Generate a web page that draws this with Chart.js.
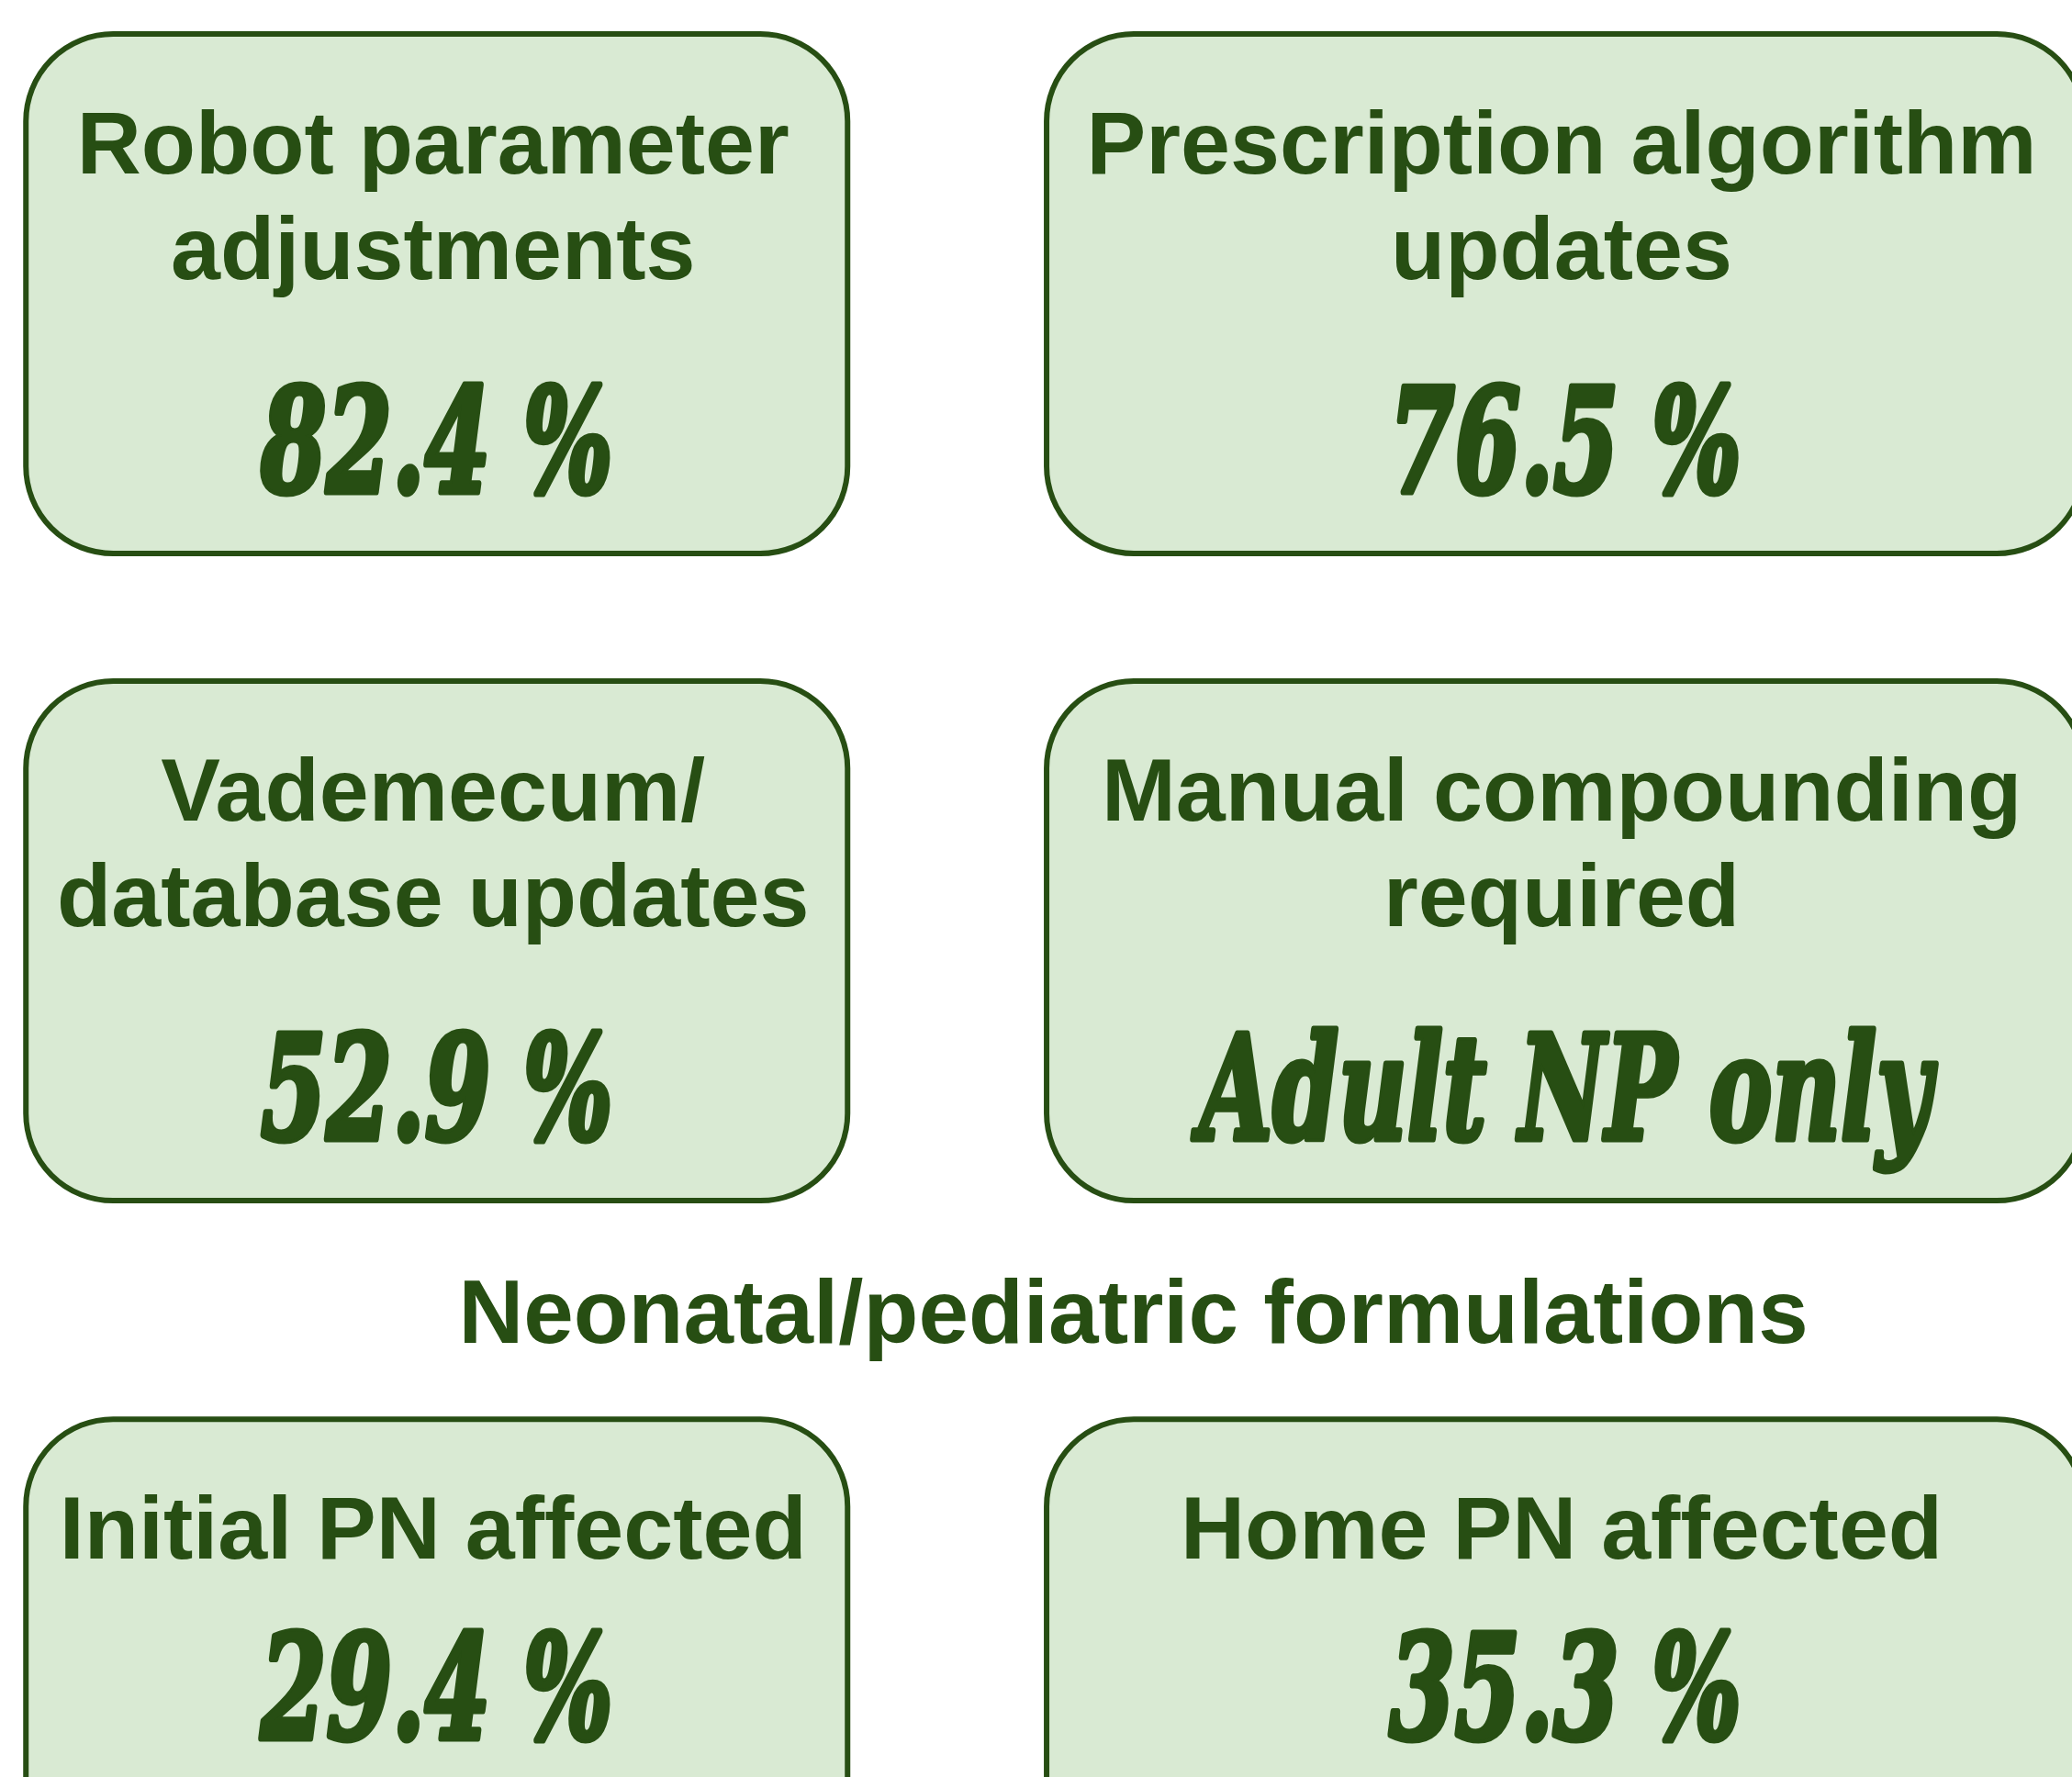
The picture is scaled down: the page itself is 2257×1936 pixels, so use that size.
<!DOCTYPE html>
<html>
<head>
<meta charset="utf-8">
<title>PN compounding impact</title>
<script src="https://cdn.jsdelivr.net/npm/chart.js@4.4.1/dist/chart.umd.min.js"></script>
<style>
  html, body { margin: 0; padding: 0; background: #ffffff; }
  #chart { display: block; }
</style>
</head>
<body>
<canvas id="chart" width="2257" height="1936"></canvas>
<script>
  'use strict';

  // data
  const cellLabels = [
    ['Robot parameter', 'adjustments'],
    ['Prescription algorithm', 'updates'],
    ['Vademecum/', 'database updates'],
    ['Manual compounding', 'required'],
    ['Initial PN affected'],
    ['Home PN affected']
  ];
  const cellValues = [82.4, 76.5, 52.9, null, 29.4, 35.3];
  const cellNotes = [null, null, null, 'Adult NP only', null, null];
  const cellColumn = [0, 1, 0, 1, 0, 1];
  const cellRow = [0, 0, 1, 1, 2, 2];
  const sectionTitle = 'Neonatal/pediatric formulations';
  const sectionStartsAtRow = 2;

  // style
  const GREEN = '#274e13';
  const FILL = '#d9ead3';
  const LABEL_FONT = 'bold 97px "Liberation Sans", Arial, sans-serif';
  const TITLE_FONT = 'bold 98px "Liberation Sans", Arial, sans-serif';
  const VALUE_FONT = 'italic bold 158px "DejaVu Serif", serif';
  const VALUE_SQUEEZE = 0.65;
  const BOX_W = [895, 1130];
  const BOX_H = 566;
  const BOX_R = 95;
  const SECTION_BAND = 99;

  function roundBox(ctx, x, y, w, h, r) {
    ctx.beginPath();
    ctx.moveTo(x + r, y);
    ctx.arcTo(x + w, y, x + w, y + h, r);
    ctx.arcTo(x + w, y + h, x, y + h, r);
    ctx.arcTo(x, y + h, x, y, r);
    ctx.arcTo(x, y, x + w, y, r);
    ctx.closePath();
  }

  const boxPlugin = {
    id: 'boxes',
    afterDatasetsDraw(chart) {
      const ctx = chart.ctx;
      const meta = chart.getDatasetMeta(0);
      const ys = chart.scales.y;
      ctx.save();
      ctx.textAlign = 'center';
      ctx.textBaseline = 'alphabetic';

      // section title between the second row and the last one
      const titleY = ys.getPixelForValue(sectionStartsAtRow - 0.5) + SECTION_BAND / 2;
      ctx.fillStyle = GREEN;
      ctx.font = TITLE_FONT;
      ctx.fillText(sectionTitle, chart.width * 0.547, titleY + 36);

      meta.data.forEach(function (pt, i) {
        const w = BOX_W[cellColumn[i]];
        const cx = pt.x;
        let cy = pt.y;
        if (cellRow[i] >= sectionStartsAtRow) cy += SECTION_BAND;
        const left = cx - w / 2;
        const top = cy - BOX_H / 2;

        roundBox(ctx, left, top, w, BOX_H, BOX_R);
        ctx.fillStyle = FILL;
        ctx.fill();
        ctx.lineWidth = 6;
        ctx.strokeStyle = GREEN;
        ctx.stroke();

        const lines = cellLabels[i];
        ctx.fillStyle = GREEN;
        ctx.font = LABEL_FONT;
        lines.forEach(function (line, k) {
          ctx.fillText(line, cx - 4, top + 152 + k * 115);
        });

        const text = cellValues[i] != null ? cellValues[i].toFixed(1) + ' %' : cellNotes[i];
        const lastBase = top + 152 + (lines.length - 1) * 115;
        const valueBase = lastBase + (lines.length > 1 ? 232 : 196);
        ctx.save();
        ctx.translate(cx, valueBase);
        ctx.scale(VALUE_SQUEEZE, 1);
        ctx.font = VALUE_FONT;
        ctx.lineJoin = 'round';
        ctx.lineWidth = 7;
        ctx.strokeStyle = GREEN;
        ctx.strokeText(text, 0, 0);
        ctx.fillText(text, 0, 0);
        ctx.restore();
      });
      ctx.restore();
    }
  };

  new Chart(document.getElementById('chart'), {
    type: 'scatter',
    data: {
      datasets: [{
        data: cellValues.map(function (v, i) {
          return { x: cellColumn[i], y: cellRow[i] };
        }),
        pointRadius: 0,
        pointHoverRadius: 0
      }]
    },
    options: {
      responsive: false,
      animation: false,
      events: [],
      layout: { padding: 0 },
      plugins: {
        legend: { display: false },
        tooltip: { enabled: false }
      },
      scales: {
        x: { type: 'linear', min: -0.387, max: 1.449, display: false },
        y: { type: 'linear', min: -0.454, max: 2.292, reverse: true, display: false }
      }
    },
    plugins: [boxPlugin]
  });
</script>
</body>
</html>
